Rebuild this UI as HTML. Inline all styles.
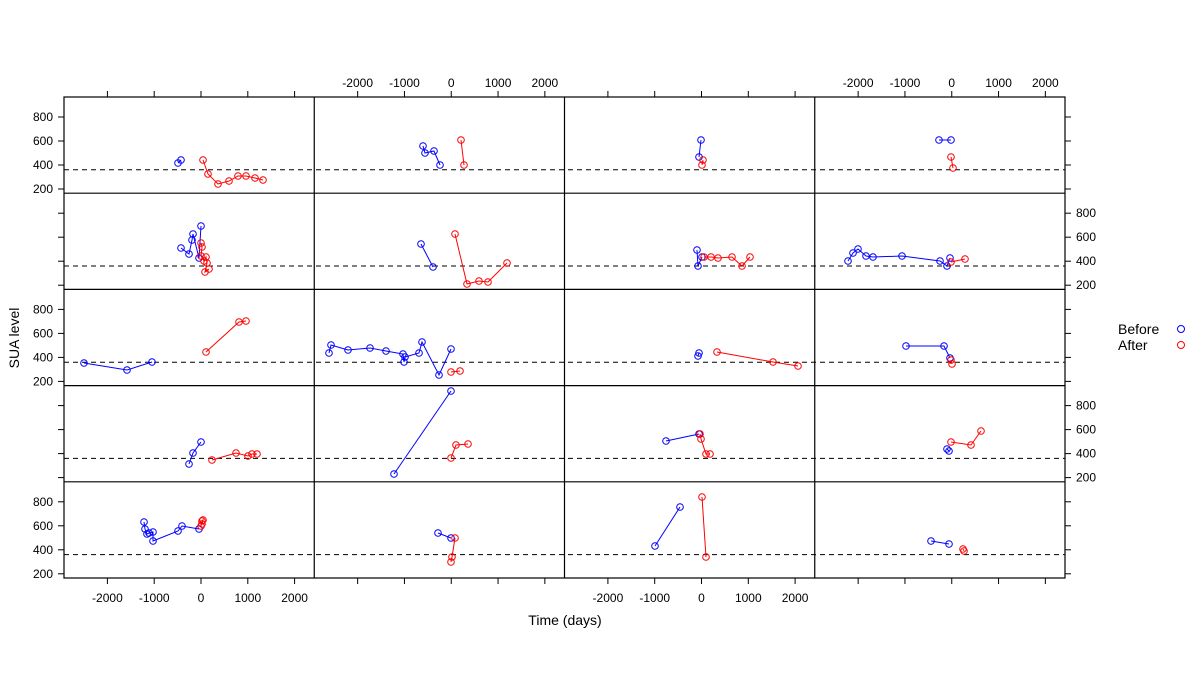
<!DOCTYPE html>
<html><head><meta charset="utf-8"><style>
html,body{margin:0;padding:0;background:#fff;}
svg{display:block;font-family:"Liberation Sans",Arial,sans-serif;}
</style></head><body>
<svg id="s" width="1200" height="686" xmlns="http://www.w3.org/2000/svg"></svg>
<script>
const s=document.getElementById('s');
let h='';
const L=64,R=1065,T=97,B=578;
const cx=[64,314.25,564.5,814.75,1065];
const ry=[97,193.2,289.4,385.6,481.8,578];
const yv=(r,v)=>ry[r]+20+(800-v)*0.12;
// dashed lines
for(let r=0;r<5;r++){const y=yv(r,360);h+=`<line x1="${L}" x2="${R}" y1="${y}" y2="${y}" stroke="#000" stroke-dasharray="5,4" stroke-width="1"/>`;}
// grid borders
h+=`<rect x="${L}" y="${T}" width="${R-L}" height="${B-T}" fill="none" stroke="#000" stroke-width="1.2"/>`;
for(let i=1;i<4;i++)h+=`<line x1="${cx[i]}" x2="${cx[i]}" y1="${T}" y2="${B}" stroke="#000" stroke-width="1.2"/>`;
for(let i=1;i<5;i++)h+=`<line x1="${L}" x2="${R}" y1="${ry[i]}" y2="${ry[i]}" stroke="#000" stroke-width="1.2"/>`;
// x ticks
const xt=[-2000,-1000,0,1000,2000];
for(let c=0;c<4;c++){const z=cx[c]+137;for(const t of xt){const x=z+t*0.0468;
h+=`<line x1="${x}" x2="${x}" y1="${T}" y2="${T-6}" stroke="#000"/><line x1="${x}" x2="${x}" y1="${B}" y2="${B+6}" stroke="#000"/>`;
if(c%2==0)h+=`<text x="${x}" y="602" font-size="12" text-anchor="middle">${t}</text>`;
else h+=`<text x="${x}" y="87" font-size="12" text-anchor="middle">${t}</text>`;}}
// y ticks
for(let r=0;r<5;r++){for(const v of [200,400,600,800]){const y=yv(r,v);
h+=`<line x1="${L}" x2="${L-6}" y1="${y}" y2="${y}" stroke="#000"/><line x1="${R}" x2="${R+6}" y1="${y}" y2="${y}" stroke="#000"/>`;
if(r%2==0)h+=`<text x="53" y="${y+4}" font-size="12" text-anchor="end">${v}</text>`;
else h+=`<text x="1076" y="${y+4}" font-size="12">${v}</text>`;}}
const P=[
[[178,163],[181,160]],[[203,160],[208,174],[218,184],[229,181],[238,176],[246,176],[255,178],[263,180]],
[[423,146],[425,153],[434,151],[440,165]],[[461,140],[464,165]],
[[701,140],[699,157]],[[703,160],[702,165]],
[[939,140],[951,140]],[[951,157],[953,168]],
[[181,248],[189,254],[192,240],[193,234],[199,258],[201,226]],[[201,243],[202,247],[201,256],[204,261],[206,257],[207,263],[205,272],[209,269]],
[[421,244],[433,267]],[[455,234],[467,284],[479,281],[488,282],[507,263]],
[[697,250],[698,266],[702,257]],[[704,257],[711,257],[718,258],[732,257],[742,266],[750,257]],
[[848,261],[853,253],[858,249],[866,256],[873,257],[902,256],[940,261],[947,266],[950,258]],[[951,262],[965,259]],
[[84,363],[127,370],[152,362]],[[206,352],[239,322],[246,321]],
[[329,353],[331,345],[348,350],[370,348],[386,351],[403,354],[404,362],[405,357],[419,353],[422,342],[439,375],[451,349]],[[451,372],[460,371]],
[[698,356],[699,353]],[[717,352],[773,362],[798,366]],
[[906,346],[944,346],[950,358]],[[951,360],[952,364]],
[[189,464],[193,453],[201,442]],[[212,460],[236,453],[248,456],[252,454],[257,454]],
[[394,474],[451,391]],[[451,458],[456,445],[468,444]],
[[666,441],[699,434]],[[700,434],[701,439],[706,454],[710,454]],
[[947,449],[949,451]],[[951,442],[971,445],[981,431]],
[[144,522],[145,529],[147,534],[149,533],[153,532],[153,541],[178,531],[182,526],[199,529]],[[201,526],[202,521],[203,520],[202,524]],
[[438,533],[451,538]],[[455,538],[452,557],[451,562]],
[[655,546],[680,507]],[[702,497],[706,557]],
[[931,541],[949,544]],[[963,549],[964,551]]
];
P.forEach((pts,i)=>{const col=i%2==0?'#0000ff':'#ff0000';
h+=`<polyline points="${pts.map(p=>p.join(',')).join(' ')}" fill="none" stroke="${col}" stroke-width="1"/>`;
for(const p of pts)h+=`<circle cx="${p[0]}" cy="${p[1]}" r="3.3" fill="none" stroke="${col}" stroke-width="1"/>`;});
h+=`<text x="565" y="625" font-size="14" text-anchor="middle">Time (days)</text>`;
h+=`<text transform="translate(19,338) rotate(-90)" font-size="14" text-anchor="middle">SUA level</text>`;
h+=`<text x="1118" y="334" font-size="14">Before</text><circle cx="1181" cy="329" r="3.5" fill="none" stroke="#0000ff"/>`;
h+=`<text x="1118" y="350" font-size="14">After</text><circle cx="1181" cy="345" r="3.5" fill="none" stroke="#ff0000"/>`;
s.innerHTML=h;
</script>
</body></html>
